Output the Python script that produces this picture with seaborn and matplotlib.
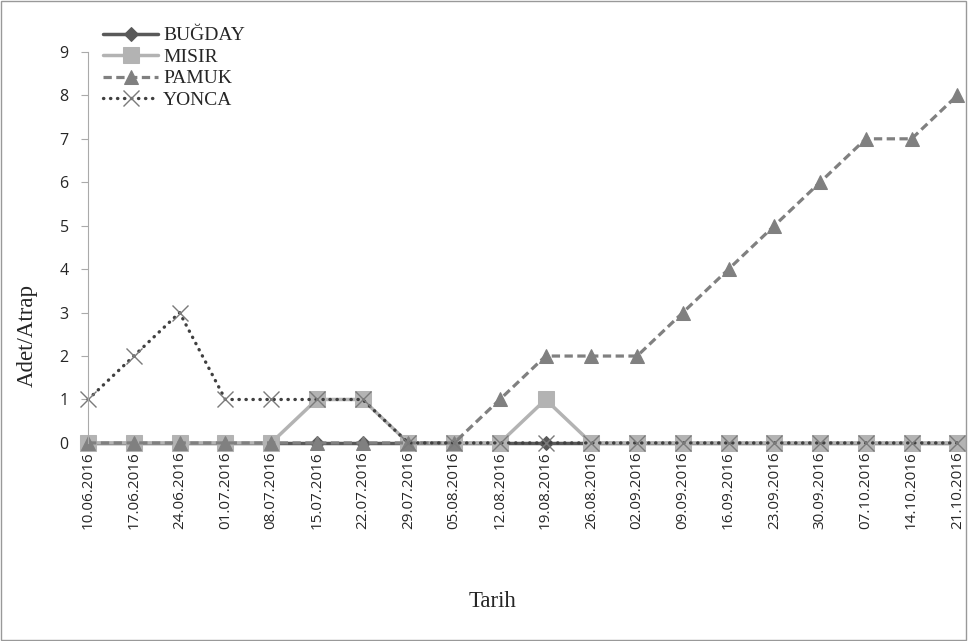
import numpy as np
import pandas as pd
import matplotlib
matplotlib.use("Agg")
import matplotlib.pyplot as plt
import seaborn as sns
from matplotlib.patches import Rectangle

tarihler = ["10.06.2016", "17.06.2016", "24.06.2016", "01.07.2016", "08.07.2016",
            "15.07.2016", "22.07.2016", "29.07.2016", "05.08.2016", "12.08.2016",
            "19.08.2016", "26.08.2016", "02.09.2016", "09.09.2016", "16.09.2016",
            "23.09.2016", "30.09.2016", "07.10.2016", "14.10.2016", "21.10.2016"]

bugday = [0, 0, 0, 0, 0, 0, 0, 0, 0, 0, 0, 0, 0, 0, 0, 0, 0, 0, 0, 0]
misir = [0, 0, 0, 0, 0, 1, 1, 0, 0, 0, 1, 0, 0, 0, 0, 0, 0, 0, 0, 0]
pamuk = [0, 0, 0, 0, 0, 0, 0, 0, 0, 1, 2, 2, 2, 3, 4, 5, 6, 7, 7, 8]
yonca = [1, 2, 3, 1, 1, 1, 1, 0, 0, 0, 0, 0, 0, 0, 0, 0, 0, 0, 0, 0]

sns.set_style("white")
plt.rcParams['font.family'] = ['Liberation Serif', 'DejaVu Serif']

fig = plt.figure(figsize=(9.68, 6.41), dpi=100)
ax = fig.add_axes([0.091, 0.309, 0.898, 0.61])

x = np.arange(len(tarihler))

sns.lineplot(x=x, y=bugday, ax=ax, color="#595959", lw=2.5, marker="D", markersize=7,
             markeredgecolor="#595959", label="BUĞDAY")
sns.lineplot(x=x, y=misir, ax=ax, color="#b3b3b3", lw=2.5, marker="s", markersize=11,
             markeredgecolor="#b3b3b3", label="MISIR")
sns.lineplot(x=x, y=pamuk, ax=ax, color="#808080", lw=2.3, linestyle=(0, (2.6, 1.4)),
             marker="^", markersize=10, markeredgecolor="#808080", label="PAMUK")
sns.lineplot(x=x, y=yonca, ax=ax, color="#404040", lw=2.4, linestyle=(0, (0.1, 2.0)),
             dash_capstyle="round",
             marker="x", markersize=11, markeredgecolor="#7a7a7a", markeredgewidth=1,
             label="YONCA")
for ln in ax.lines:
    ln.set_clip_on(False)

ax.set_xlim(0, len(tarihler) - 1)
ax.set_ylim(0, 9)
ax.set_yticks(range(10))
ax.set_yticklabels([str(v) for v in range(10)], family="Open Sans", fontsize=11.5)
ax.set_xticks(x)
ax.set_xticklabels(tarihler, rotation=90, family="Open Sans", fontsize=11)
ax.tick_params(axis="y", length=5, color="#aaaaaa", direction="out", left=True, pad=9)
ax.tick_params(axis="x", length=0, pad=6)

for s in ["top", "right", "bottom"]:
    ax.spines[s].set_visible(False)
ax.spines["left"].set_color("#aaaaaa")

ax.set_xlabel("Tarih", fontsize=16.5)
ax.set_ylabel("Adet/Atrap", fontsize=16.5)
ax.xaxis.set_label_coords(0.465, -0.378)
ax.yaxis.set_label_coords(-0.058, 0.276)

leg = ax.legend(loc="upper left", bbox_to_anchor=(0.008, 1.084), frameon=False,
                fontsize=14, handlelength=2.85, handletextpad=0.26, labelspacing=0.2,
                borderaxespad=0)

fig.patches.append(Rectangle((0.001, 0.001), 0.997, 0.997, transform=fig.transFigure,
                             fill=False, edgecolor="#999999", lw=1))

fig.savefig("out.png", dpi=100)
